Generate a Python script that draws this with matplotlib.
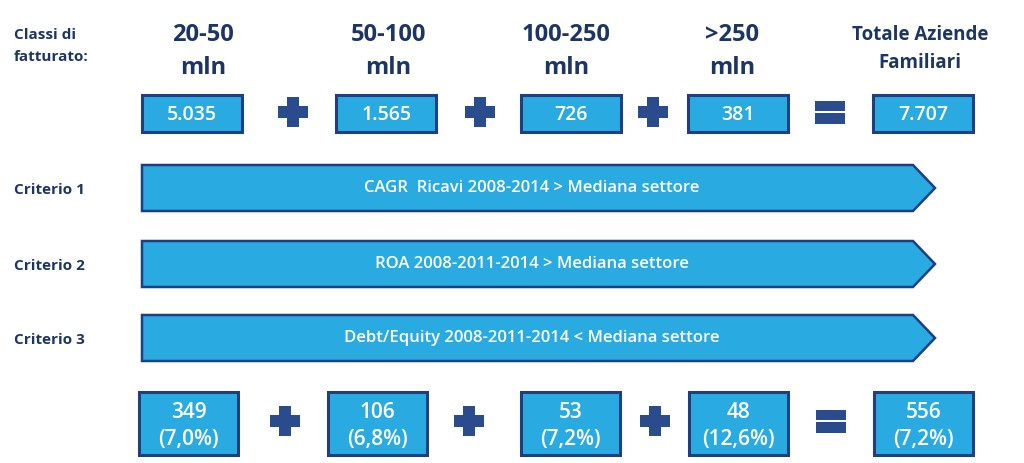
import matplotlib.pyplot as plt
from matplotlib.patches import Rectangle, Polygon

plt.rcParams['font.family'] = ['Open Sans', 'DejaVu Sans']

# dati
classi = ['20-50', '50-100', '100-250', '>250', 'Totale Aziende']
classi_riga2 = ['mln', 'mln', 'mln', 'mln', 'Familiari']
aziende = [5035, 1565, 726, 381, 7707]
criteri = ['Criterio 1', 'Criterio 2', 'Criterio 3']
descrizioni = ['CAGR  Ricavi 2008-2014 > Mediana settore',
               'ROA 2008-2011-2014 > Mediana settore',
               'Debt/Equity 2008-2011-2014 < Mediana settore']
selezionate = [349, 106, 53, 48, 556]
quota = [7.0, 6.8, 7.2, 12.6, 7.2]
operatori = ['+', '+', '+', '=']

# layout (pixel)
AZZURRO = '#29abe2'
BLU = '#1f3f7f'
SEGNO = '#2b4c8c'
TESTO = '#1c3563'

top_x = [142, 336, 521, 688, 873]
head_x = [203, 388, 566, 732, 920]
op_top_x = [293, 480, 653, 830]
bot_x = [139, 328, 521, 689, 874]
op_bot_x = [285, 469, 655, 831]
arrow_y = [188, 264, 338]


def fmt_int(v):
    return f'{v:,}'.replace(',', '.')


def fmt_pct(v):
    return '(' + f'{v:.1f}'.replace('.', ',') + '%)'


def segno(ax, op, cx, cy):
    s, t = 15, 6
    if op == '+':
        pts = [(cx - t, cy - s), (cx + t, cy - s), (cx + t, cy - t), (cx + s, cy - t),
               (cx + s, cy + t), (cx + t, cy + t), (cx + t, cy + s), (cx - t, cy + s),
               (cx - t, cy + t), (cx - s, cy + t), (cx - s, cy - t), (cx - t, cy - t)]
        ax.add_patch(Polygon(pts, closed=True, facecolor=SEGNO, edgecolor='none'))
    else:
        ax.add_patch(Rectangle((cx - s, cy - 11.5), 2 * s, 10.5, facecolor=SEGNO, edgecolor='none'))
        ax.add_patch(Rectangle((cx - s, cy + 1), 2 * s, 10.5, facecolor=SEGNO, edgecolor='none'))


fig = plt.figure(figsize=(10.24, 4.63), dpi=100)
ax = fig.add_axes([0, 0, 1, 1])
ax.set_xlim(0, 1024)
ax.set_ylim(463, 0)
ax.axis('off')

# intestazione
ax.text(14, 35, 'Classi di', fontsize=11, fontweight='bold', color=TESTO, va='center')
ax.text(14, 57, 'fatturato:', fontsize=11, fontweight='bold', color=TESTO, va='center')

for i in range(len(classi)):
    if i < 4:
        ax.text(head_x[i], 35, classi[i], fontsize=17, fontweight='bold', color=TESTO,
                ha='center', va='center')
        ax.text(head_x[i], 68, classi_riga2[i], fontsize=17, fontweight='bold', color=TESTO,
                ha='center', va='center')
    else:
        ax.text(head_x[i], 35, classi[i], fontsize=13.5, fontweight='bold', color=TESTO,
                ha='center', va='center')
        ax.text(head_x[i], 63, classi_riga2[i], fontsize=13.5, fontweight='bold', color=TESTO,
                ha='center', va='center')
    ax.add_patch(Rectangle((top_x[i], 95), 100, 37, facecolor=AZZURRO, edgecolor=BLU, linewidth=2.2))
    ax.text(top_x[i] + 50, 115, fmt_int(aziende[i]), fontsize=14, fontweight='semibold',
            color='white', ha='center', va='center')

for i, op in enumerate(operatori):
    segno(ax, op, op_top_x[i], 112)

# criteri
for i in range(len(criteri)):
    cy = arrow_y[i]
    ax.text(14, cy + 2, criteri[i], fontsize=11, fontweight='bold', color=TESTO, va='center')
    pts = [(142, cy - 23), (913, cy - 23), (935, cy), (913, cy + 23), (142, cy + 23)]
    ax.add_patch(Polygon(pts, closed=True, facecolor=AZZURRO, edgecolor=BLU, linewidth=1.8))
    ax.text(532, cy, descrizioni[i], fontsize=12, fontweight='semibold', color='white',
            ha='center', va='center')

# risultati
for i in range(len(selezionate)):
    ax.add_patch(Rectangle((bot_x[i], 392), 99, 63, facecolor=AZZURRO, edgecolor=BLU, linewidth=2.2))
    ax.text(bot_x[i] + 49.5, 413, fmt_int(selezionate[i]), fontsize=15, fontweight='semibold',
            color='white', ha='center', va='center')
    ax.text(bot_x[i] + 49.5, 440, fmt_pct(quota[i]), fontsize=15, fontweight='semibold',
            color='white', ha='center', va='center')

for i, op in enumerate(operatori):
    segno(ax, op, op_bot_x[i], 421)

fig.savefig('out.png', dpi=100)
